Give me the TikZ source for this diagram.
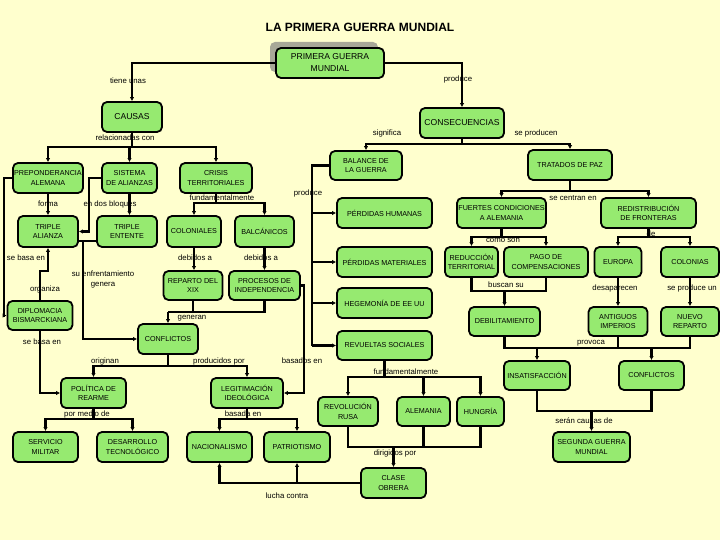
\documentclass[tikz,border=0pt]{standalone}
\usepackage{fontspec}
\setmainfont{Liberation Sans}
\usetikzlibrary{arrows.meta}

\definecolor{bgyellow}{RGB}{255,255,206}
\definecolor{boxgreen}{RGB}{150,234,112}
\definecolor{shadowgray}{RGB}{168,168,152}

\begin{document}
\begin{tikzpicture}[x=1pt, y=-1pt,
  box/.style={draw, line width=1.8pt, fill=boxgreen, rounded corners=5pt,
    align=center, inner sep=0.5pt, font=\fontsize{7.2}{9.5}\selectfont},
  bigbox/.style={box, font=\fontsize{8.6}{12}\selectfont},
  lbl/.style={inner sep=0pt, align=center, font=\fontsize{7.8}{10}\selectfont},
  link/.style={line width=2.6pt},
  arr/.style={link, -{Latex[length=4pt,width=4.5pt]}}]

  \fill[bgyellow] (0,0) rectangle (720,540);
  \useasboundingbox (0,0) rectangle (720,540);

  \node[font=\bfseries\fontsize{12}{14}\selectfont] (title) at (360,27) {LA PRIMERA GUERRA MUNDIAL};

  % Shadow of the main box
  \fill[shadowgray, rounded corners=5pt] (270,42) rectangle (378,72);

  % Main boxes
  \node[bigbox, minimum width=108pt, minimum height=30pt] (pgm)    at (330,63)  {PRIMERA GUERRA\\MUNDIAL};
  \node[bigbox, minimum width=60pt,  minimum height=30pt] (causas) at (132,117) {CAUSAS};
  \node[bigbox, minimum width=84pt,  minimum height=30pt] (consec) at (462,123) {CONSECUENCIAS};

  % Causes
  \node[box, minimum width=70pt, minimum height=30pt] (prep)       at (48,178)    {PREPONDERANCIA\\ALEMANA};
  \node[box, minimum width=55pt, minimum height=30pt] (sist)       at (129.5,178) {SISTEMA\\DE ALIANZAS};
  \node[box, minimum width=72pt, minimum height=30pt] (crisis)     at (216,178)   {CRISIS\\TERRITORIALES};
  \node[box, minimum width=60pt, minimum height=31pt] (talianza)   at (48,231.5)  {TRIPLE\\ALIANZA};
  \node[box, minimum width=60pt, minimum height=31pt] (tentente)   at (127,231.5) {TRIPLE\\ENTENTE};
  \node[box, minimum width=54pt, minimum height=31pt] (colon)      at (194,231.5) {COLONIALES};
  \node[box, minimum width=59pt, minimum height=31pt] (balc)       at (264.5,231.5) {BALCÁNICOS};
  \node[box, minimum width=59pt, minimum height=29pt] (reparto)    at (193,285.5) {REPARTO DEL\\XIX};
  \node[box, minimum width=71pt, minimum height=29pt] (procesos)   at (264.5,285.5) {PROCESOS DE\\INDEPENDENCIA};
  \node[box, minimum width=65pt, minimum height=29pt] (diplo)      at (40,315.5)  {DIPLOMACIA\\BISMARCKIANA};
  \node[box, minimum width=60pt, minimum height=30pt] (conflL)     at (168,339)   {CONFLICTOS};
  \node[box, minimum width=65pt, minimum height=30pt] (politica)   at (93.5,393)  {POLÍTICA DE\\REARME};
  \node[box, minimum width=72pt, minimum height=30pt] (legit)      at (247,393)   {LEGITIMACIÓN\\IDEOLÓGICA};
  \node[box, minimum width=65pt, minimum height=30pt] (servicio)   at (45.5,447)  {SERVICIO\\MILITAR};
  \node[box, minimum width=71pt, minimum height=30pt] (desarrollo) at (132.5,447) {DESARROLLO\\TECNOLÓGICO};
  \node[box, minimum width=65pt, minimum height=30pt] (nacion)     at (219.5,447) {NACIONALISMO};
  \node[box, minimum width=66pt, minimum height=30pt] (patrio)     at (297,447)   {PATRIOTISMO};

  % Consequences
  \node[box, minimum width=72pt, minimum height=29pt] (balance)  at (366,165.5) {BALANCE DE\\LA GUERRA};
  \node[box, minimum width=84pt, minimum height=30pt] (tratados) at (570,165)   {TRATADOS DE PAZ};
  \node[box, minimum width=95pt, minimum height=30pt] (phum)     at (384.5,213) {PÉRDIDAS HUMANAS};
  \node[box, minimum width=95pt, minimum height=30pt] (pmat)     at (384.5,262) {PÉRDIDAS MATERIALES};
  \node[box, minimum width=95pt, minimum height=30pt] (hegem)    at (384.5,303) {HEGEMONÍA DE EE UU};
  \node[box, minimum width=95pt, minimum height=29pt] (revuel)   at (384.5,345.5) {REVUELTAS SOCIALES};
  \node[box, minimum width=60pt, minimum height=29pt] (revrusa)  at (348,411.5) {REVOLUCIÓN\\RUSA};
  \node[box, minimum width=53pt, minimum height=29pt] (alemania) at (423.5,411.5) {ALEMANIA};
  \node[box, minimum width=47pt, minimum height=29pt] (hungria)  at (480.5,411.5) {HUNGRÍA};
  \node[box, minimum width=65pt, minimum height=30pt] (clase)    at (393.5,483) {CLASE\\OBRERA};
  \node[box, minimum width=89pt, minimum height=30pt] (fuertes)  at (501.5,213) {FUERTES CONDICIONES\\A ALEMANIA};
  \node[box, minimum width=95pt, minimum height=30pt] (redist)   at (648.5,213) {REDISTRIBUCIÓN\\DE FRONTERAS};
  \node[box, minimum width=53pt, minimum height=30pt] (reduc)    at (471.5,262) {REDUCCIÓN\\TERRITORIAL};
  \node[box, minimum width=84pt, minimum height=30pt] (pago)     at (546,262)   {PAGO DE\\COMPENSACIONES};
  \node[box, minimum width=47pt, minimum height=30pt] (europa)   at (618,262)   {EUROPA};
  \node[box, minimum width=58pt, minimum height=30pt] (colonias) at (690,262)   {COLONIAS};
  \node[box, minimum width=71pt, minimum height=29pt] (debil)    at (504.5,321.5) {DEBILITAMIENTO};
  \node[box, minimum width=59pt, minimum height=29pt] (antiguos) at (618,321.5) {ANTIGUOS\\IMPERIOS};
  \node[box, minimum width=58pt, minimum height=29pt] (nuevo)    at (690,321.5) {NUEVO\\REPARTO};
  \node[box, minimum width=66pt, minimum height=29pt] (insat)    at (537,375.5) {INSATISFACCIÓN};
  \node[box, minimum width=65pt, minimum height=29pt] (conflR)   at (651.5,375.5) {CONFLICTOS};
  \node[box, minimum width=77pt, minimum height=30pt] (segunda)  at (591.5,447) {SEGUNDA GUERRA\\MUNDIAL};

  % Link words
  \node[lbl] (ltiene)     at (128,81)  {tiene unas};
  \node[lbl] (lproduce)   at (458,79)  {produce};
  \node[lbl] (lrelac)     at (125,138) {relacionadas con};
  \node[lbl] (lsignif)    at (387,133) {significa};
  \node[lbl] (lseprod)    at (536,133) {se producen};
  \node[lbl] (lforma)     at (48,204)  {forma};
  \node[lbl] (lbloques)   at (110,204) {en dos bloques};
  \node[lbl] (lfund)      at (222,198) {fundamentalmente};
  \node[lbl] (lprodbal)   at (308,193) {produce};
  \node[lbl] (lcentran)   at (573,198) {se centran en};
  \node[lbl] (lcomo)      at (503,240) {como son};
  \node[lbl] (lde)        at (651,234) {de};
  \node[lbl] (lbasa)      at (26,258)  {se basa en};
  \node[lbl] (ldebcol)    at (195,258) {debidos a};
  \node[lbl] (ldebbal)    at (261,258) {debidos a};
  \node[lbl] (lenfrent)   at (103,279) {su enfrentamiento\\genera};
  \node[lbl] (lorganiza)  at (45,289)  {organiza};
  \node[lbl] (lbuscan)    at (506,285) {buscan su};
  \node[lbl] (ldesap)     at (615,288) {desaparecen};
  \node[lbl] (lseprodun)  at (692,288) {se produce un};
  \node[lbl] (lgeneran)   at (192,318) {generan};
  \node[lbl] (lbasadip)   at (42,342)  {se basa en};
  \node[lbl] (lprovoca)   at (591,343) {provoca};
  \node[lbl] (loriginan)  at (105,361) {originan};
  \node[lbl] (lproducidos) at (219,361) {producidos por};
  \node[lbl] (lbasados)   at (302,361) {basados en};
  \node[lbl] (lfundrev)   at (406,372) {fundamentalmente};
  \node[lbl] (lpormedio)  at (87,414)  {por medio de};
  \node[lbl] (lbasada)    at (243,414) {basada en};
  \node[lbl] (lseran)     at (584,421) {serán causas de};
  \node[lbl] (ldirigidos) at (395,453) {dirigidos por};
  \node[lbl] (llucha)     at (287,496) {lucha contra};

  % Junctions
  \coordinate (jcau)  at (132,147);
  \coordinate (jenf)  at (83,241);
  \coordinate (jcri)  at (216,203);
  \coordinate (jgen)  at (168,312);
  \coordinate (jcon)  at (168,366);
  \coordinate (jpol)  at (93.5,419);
  \coordinate (jleg)  at (247,419);
  \coordinate (jcons) at (462,144);
  \coordinate (jbal)  at (312,165.5);
  \coordinate (jrev)  at (384.5,377);
  \coordinate (jdir)  at (393.5,447);
  \coordinate (jtra)  at (570,191);
  \coordinate (jfue)  at (501.5,237);
  \coordinate (jred)  at (648.5,237);
  \coordinate (jbus)  at (504.5,291);
  \coordinate (jprov) at (591,348);
  \coordinate (jser)  at (591.5,411);

  % Top level
  \draw[arr] (pgm.west) -| (causas.north);
  \draw[arr] (pgm.east) -| (consec.north);

  % Causes branch
  \draw[link] (causas.south) -- (jcau);
  \draw[arr] (jcau) -| (prep.north);
  \draw[arr] (jcau) -| (sist.north);
  \draw[arr] (jcau) -| (crisis.north);
  \draw[arr] (prep.south) -- (talianza.north);
  \draw[arr] (sist.south) -- (sist.south |- tentente.north);
  \draw[arr] (sist.west) -- ++(-12,0) |- (talianza.east);
  \draw[arr] (prep.west) -- ++(-8,0) |- (diplo.west);
  \draw[arr] (diplo.north) -- ++(0,-29) -| (talianza.south);
  \draw[link] (talianza.east |- jenf) -- (tentente.west |- jenf);
  \draw[arr] (jenf) |- (conflL.west);
  \draw[link] (crisis.south) -- (jcri);
  \draw[arr] (jcri) -| (colon.north);
  \draw[arr] (jcri) -| (balc.north);
  \draw[arr] (colon.south) -- (colon.south |- reparto.north);
  \draw[arr] (balc.south) -- (procesos.north);
  \draw[link] (reparto.south) |- (jgen);
  \draw[link] (procesos.south) |- (jgen);
  \draw[arr] (jgen) -- (conflL.north);
  \draw[arr] (procesos.east) -- ++(3,0) |- (legit.east);
  \draw[link] (conflL.south) -- (jcon);
  \draw[arr] (jcon) -| (politica.north);
  \draw[arr] (jcon) -| (legit.north);
  \draw[arr] (diplo.south) |- (politica.west);
  \draw[link] (politica.south) -- (jpol);
  \draw[arr] (jpol) -| (servicio.north);
  \draw[arr] (jpol) -| (desarrollo.north);
  \draw[link] (legit.south) -- (jleg);
  \draw[arr] (jleg) -| (nacion.north);
  \draw[arr] (jleg) -| (patrio.north);
  \draw[arr] (clase.west) -| (nacion.south);
  \draw[arr] (clase.west -| patrio.south) -- (patrio.south);

  % Consequences branch
  \draw[link] (consec.south) -- (jcons);
  \draw[arr] (jcons) -| (balance.north);
  \draw[arr] (jcons) -| (tratados.north);
  \draw[link] (balance.west) -- (jbal) -- (jbal |- revuel.west);
  \draw[arr] (jbal |- phum.west) -- (phum.west);
  \draw[arr] (jbal |- pmat.west) -- (pmat.west);
  \draw[arr] (jbal |- hegem.west) -- (hegem.west);
  \draw[arr] (jbal |- revuel.west) -- (revuel.west);
  \draw[link] (revuel.south) -- (jrev);
  \draw[arr] (jrev) -| (revrusa.north);
  \draw[arr] (jrev) -| (alemania.north);
  \draw[arr] (jrev) -| (hungria.north);
  \draw[link] (revrusa.south) |- (hungria.south |- jdir) -- (hungria.south);
  \draw[link] (alemania.south) -- (alemania.south |- jdir);
  \draw[arr] (jdir) -- (clase.north);
  \draw[link] (tratados.south) -- (jtra);
  \draw[arr] (jtra) -| (fuertes.north);
  \draw[arr] (jtra) -| (redist.north);
  \draw[link] (fuertes.south) -- (jfue);
  \draw[arr] (jfue) -| (reduc.north);
  \draw[arr] (jfue) -| (pago.north);
  \draw[link] (redist.south) -- (jred);
  \draw[arr] (jred) -| (europa.north);
  \draw[arr] (jred) -| (colonias.north);
  \draw[link] (reduc.south) |- (pago.south |- jbus) -- (pago.south);
  \draw[arr] (jbus) -- (debil.north);
  \draw[arr] (europa.south) -- (antiguos.north);
  \draw[arr] (colonias.south) -- (nuevo.north);
  \draw[link] (debil.south) |- (nuevo.south |- jprov) -- (nuevo.south);
  \draw[link] (antiguos.south) -- (antiguos.south |- jprov);
  \draw[arr] (insat.north |- jprov) -- (insat.north);
  \draw[arr] (conflR.north |- jprov) -- (conflR.north);
  \draw[link] (insat.south) |- (conflR.south |- jser) -- (conflR.south);
  \draw[arr] (jser) -- (segunda.north);

\end{tikzpicture}
\end{document}
